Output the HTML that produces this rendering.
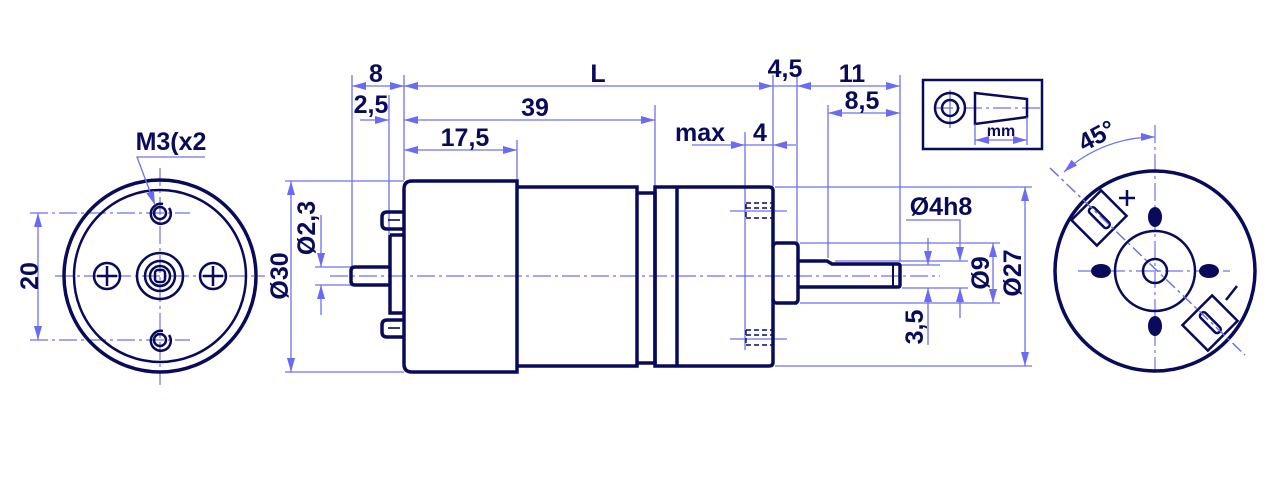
<!DOCTYPE html>
<html><head><meta charset="utf-8"><style>
html,body{margin:0;padding:0;background:#fff;}
svg{display:block;}
text{font-family:"Liberation Sans",Arial,sans-serif;font-weight:bold;fill:#0a0a5a;font-size:25px;}
.d{stroke:#7070f0;stroke-width:1.3;fill:none;}
.c{stroke:#7070f0;stroke-width:1.2;fill:none;stroke-dasharray:18 4 3 4;}
.o{stroke:#0a0a5a;stroke-width:3.5;fill:none;}
.t{stroke:#0a0a5a;stroke-width:2.5;fill:none;}
</style></head><body>
<svg width="1268" height="484" viewBox="0 0 1268 484" xmlns="http://www.w3.org/2000/svg">
<defs>
<marker id="a" viewBox="0 0 14 8" refX="14" refY="4" markerWidth="14" markerHeight="8" markerUnits="userSpaceOnUse" orient="auto-start-reverse"><path d="M0,0 L14,4 L0,8z" fill="#6a6af5"/></marker>
</defs>

<!-- LEFT VIEW -->
<g>
<line class="c" x1="160" y1="168" x2="160" y2="385"/>
<line class="c" x1="55" y1="276" x2="265" y2="276"/>
<line class="c" x1="30" y1="213" x2="190" y2="213"/>
<line class="c" x1="30" y1="340" x2="190" y2="340"/>
<circle class="o" cx="160" cy="276" r="96" stroke-width="4"/>
<circle class="t" cx="160" cy="276" r="86"/>
<circle class="t" cx="160" cy="213" r="6"/>
<path class="t" d="M169,208 A10,10 0 1 1 163,204" stroke-width="2"/>
<circle class="t" cx="160" cy="340" r="6"/>
<path class="t" d="M169,335 A10,10 0 1 1 163,331" stroke-width="2"/>
<circle class="t" cx="107" cy="276" r="13"/>
<path class="t" d="M97,276 H117 M107,266 V286" stroke-width="2.5"/>
<circle class="t" cx="213" cy="276" r="13"/>
<path class="t" d="M203,276 H223 M213,266 V286" stroke-width="2.5"/>
<circle class="t" cx="160" cy="276" r="23"/>
<circle class="t" cx="160" cy="276" r="15"/>
<circle class="t" cx="160" cy="276" r="10" stroke-width="2"/>
<rect class="t" x="155" y="270" width="10" height="12" rx="3" stroke-width="2"/>
<line class="d" x1="38" y1="213" x2="38" y2="340" marker-start="url(#a)" marker-end="url(#a)"/>
<text transform="translate(38,276) rotate(-90)" text-anchor="middle">20</text>
<text x="171" y="150" text-anchor="middle">M3(x2</text>
<path class="d" d="M205,157 H137 L155,205" marker-end="url(#a)"/>
</g>

<!-- SIDE VIEW -->
<line class="c" x1="330" y1="276" x2="940" y2="276"/>
<g class="d">
<line x1="352" y1="75" x2="352" y2="266"/>
<line x1="389" y1="95" x2="389" y2="235"/>
<line x1="404" y1="75" x2="404" y2="180"/>
<line x1="517" y1="140" x2="517" y2="180"/>
<line x1="655" y1="105" x2="655" y2="187"/>
<line x1="745" y1="132" x2="745" y2="350"/>
<line x1="773" y1="75" x2="773" y2="186"/>
<line x1="797" y1="75" x2="797" y2="242"/>
<line x1="828" y1="105" x2="828" y2="258"/>
<line x1="900" y1="75" x2="900" y2="262"/>
<line x1="285" y1="181" x2="404" y2="181"/>
<line x1="285" y1="372" x2="404" y2="372"/>
<line x1="315" y1="267" x2="352" y2="267"/>
<line x1="315" y1="285" x2="352" y2="285"/>
<line x1="775" y1="187" x2="1032" y2="187"/>
<line x1="775" y1="366" x2="1032" y2="366"/>
<line x1="800" y1="243" x2="1000" y2="243"/>
<line x1="800" y1="303" x2="1000" y2="303"/>
<line x1="835" y1="261" x2="968" y2="261"/>
<line x1="902" y1="288" x2="968" y2="288"/>
<line x1="832" y1="265" x2="940" y2="265"/>
<line x1="730" y1="211" x2="787" y2="211"/>
<line x1="730" y1="339" x2="787" y2="339"/>
</g>
<g class="d">
<line x1="352" y1="86" x2="404" y2="86" marker-start="url(#a)" marker-end="url(#a)"/>
<line x1="404" y1="86" x2="773" y2="86" marker-start="url(#a)" marker-end="url(#a)"/>
<line x1="773" y1="86" x2="797" y2="86"/>
<line x1="797" y1="86" x2="900" y2="86" marker-start="url(#a)" marker-end="url(#a)"/>
<line x1="360" y1="120" x2="389" y2="120" marker-end="url(#a)"/>
<line x1="404" y1="120" x2="655" y2="120" marker-start="url(#a)" marker-end="url(#a)"/>
<line x1="404" y1="150" x2="517" y2="150" marker-start="url(#a)" marker-end="url(#a)"/>
<line x1="828" y1="113" x2="900" y2="113" marker-start="url(#a)" marker-end="url(#a)"/>
<line x1="692" y1="145" x2="745" y2="145" marker-end="url(#a)"/>
<line x1="773" y1="145" x2="796" y2="145" marker-start="url(#a)"/>
<line x1="745" y1="145" x2="773" y2="145"/>
<line x1="291" y1="181" x2="291" y2="372" marker-start="url(#a)" marker-end="url(#a)"/>
<line x1="321" y1="215" x2="321" y2="267" marker-end="url(#a)"/>
<line x1="321" y1="315" x2="321" y2="285" marker-end="url(#a)"/>
<line x1="1025" y1="187" x2="1025" y2="366" marker-start="url(#a)" marker-end="url(#a)"/>
<line x1="993" y1="243" x2="993" y2="303" marker-start="url(#a)" marker-end="url(#a)"/>
<path d="M906,220 H960 V261" marker-end="url(#a)"/>
<line x1="960" y1="318" x2="960" y2="288" marker-end="url(#a)"/>
<line x1="928" y1="238" x2="928" y2="265" marker-end="url(#a)"/>
<line x1="928" y1="345" x2="928" y2="288" marker-end="url(#a)"/>
</g>
<text x="376" y="82" text-anchor="middle">8</text>
<text x="598" y="82" text-anchor="middle">L</text>
<text x="785" y="77" text-anchor="middle">4,5</text>
<text x="852" y="82" text-anchor="middle">11</text>
<text x="371" y="113" text-anchor="middle">2,5</text>
<text x="535" y="116" text-anchor="middle">39</text>
<text x="862" y="109" text-anchor="middle">8,5</text>
<text x="465" y="146" text-anchor="middle">17,5</text>
<text x="700" y="141" text-anchor="middle">max</text>
<text x="760" y="141" text-anchor="middle">4</text>
<text x="941" y="215" text-anchor="middle">Ø4h8</text>
<text transform="translate(288,276) rotate(-90)" text-anchor="middle">Ø30</text>
<text transform="translate(315,228) rotate(-90)" text-anchor="middle">Ø2,3</text>
<text transform="translate(1021,273) rotate(-90)" text-anchor="middle">Ø27</text>
<text transform="translate(989,273) rotate(-90)" text-anchor="middle">Ø9</text>
<text transform="translate(923,327) rotate(-90)" text-anchor="middle">3,5</text>

<g class="o" stroke-width="3">
<path d="M412,181 H517 V372 H412 Q404,372 404,364 V189 Q404,181 412,181z"/>
<path d="M517,187 H637 V366 H517"/>
<path d="M637,193 H655 V363 H637"/>
<path d="M655,187 H769 Q773,187 773,191 V362 Q773,366 769,366 H655z"/>
<line x1="677" y1="187" x2="677" y2="366"/>
<path d="M797,303 H777 Q773,303 773,299 M773,247 Q773,243 777,243 H794 Q798,243 798,247 V299 Q798,303 794,303"/>
<path d="M798,261 H827 L832,264 H898 Q900,264 900,266 V285 Q900,287 898,287 H798"/>
<line x1="893" y1="264" x2="893" y2="287" stroke-width="2"/>
<path d="M390,235 H404 M404,313 H390 V235"/>
<path d="M404,212 H387 Q382,212 382,217 V224 Q382,229 387,229 H404"/>
<path d="M404,320 H387 Q382,320 382,325 V332 Q382,337 387,337 H404"/>
<path d="M389,267 H355 Q351,267 351,271 V281 Q351,285 355,285 H389"/>
</g>
<g stroke="#0a0a5a" stroke-width="1.6" fill="none">
<line x1="388" y1="220" x2="400" y2="220"/>
<line x1="388" y1="328" x2="400" y2="328"/>
</g>
<g stroke="#0a0a5a" stroke-width="1.4" stroke-dasharray="5 3" fill="none">
<path d="M746,203 H772 M746,218 H772 M746,204 V218"/>
<path d="M746,330 H772 M746,345 H772 M746,330 V345"/>
<line x1="746" y1="208" x2="772" y2="208"/>
<line x1="746" y1="335" x2="772" y2="335"/>
</g>

<rect class="t" x="923" y="80" width="119" height="69" stroke-width="3"/>
<line class="c" x1="935" y1="108" x2="1040" y2="108"/>
<line class="d" x1="950" y1="90" x2="950" y2="128"/>
<circle class="t" cx="950" cy="108" r="15" stroke-width="3"/>
<circle class="t" cx="950" cy="108" r="8" stroke-width="2.5"/>
<path class="t" d="M975,93 L1027,99 V117 L975,124z" stroke-width="3"/>
<line class="d" x1="975" y1="124" x2="975" y2="145"/>
<line class="d" x1="1027" y1="117" x2="1027" y2="145"/>
<line class="d" x1="975" y1="140" x2="1027" y2="140" marker-start="url(#a)" marker-end="url(#a)"/>
<text x="1001" y="136" text-anchor="middle" style="font-size:16px">mm</text>

<g>
<line class="c" x1="1155" y1="125" x2="1155" y2="370"/>
<line class="c" x1="1078" y1="271" x2="1230" y2="271"/>
<line class="d" x1="1050" y1="168" x2="1245" y2="355" stroke-dasharray="12 4 3 4"/>
<circle class="o" cx="1155" cy="271" r="100" stroke-width="4"/>
<circle class="t" cx="1155" cy="271" r="40" stroke-width="3"/>
<circle class="t" cx="1155" cy="271" r="12" stroke-width="3"/>
<ellipse cx="1155" cy="217" rx="7" ry="10" fill="#0a0a5a"/>
<ellipse cx="1155" cy="326" rx="7" ry="10" fill="#0a0a5a"/>
<ellipse cx="1101" cy="271" rx="10" ry="7" fill="#0a0a5a"/>
<ellipse cx="1209" cy="271" rx="10" ry="7" fill="#0a0a5a"/>
<g transform="translate(1099,218) rotate(-45)">
<rect class="t" x="-21" y="-18" width="42" height="36" fill="#fff" stroke-width="3"/>
<rect class="t" x="-3" y="-13" width="7" height="26" rx="3" stroke-width="2.5"/>
</g>
<g transform="translate(1210,323) rotate(-45)">
<rect class="t" x="-21" y="-18" width="42" height="36" fill="#fff" stroke-width="3"/>
<rect class="t" x="-3" y="-13" width="7" height="26" rx="3" stroke-width="2.5"/>
</g>
<line class="d" x1="1050" y1="168" x2="1245" y2="355" stroke-dasharray="12 4 3 4"/>
<path class="t" d="M1119,198 H1135 M1127,190 V206" stroke-width="3"/>
<line class="t" x1="1226" y1="300" x2="1237" y2="286" stroke-width="3"/>
<path class="d" d="M1155,137 A134,134 0 0 0 1064,172" marker-start="url(#a)" marker-end="url(#a)"/>
<text transform="translate(1084,152) rotate(-28)">45°</text>
</g>
</svg>
</body></html>
